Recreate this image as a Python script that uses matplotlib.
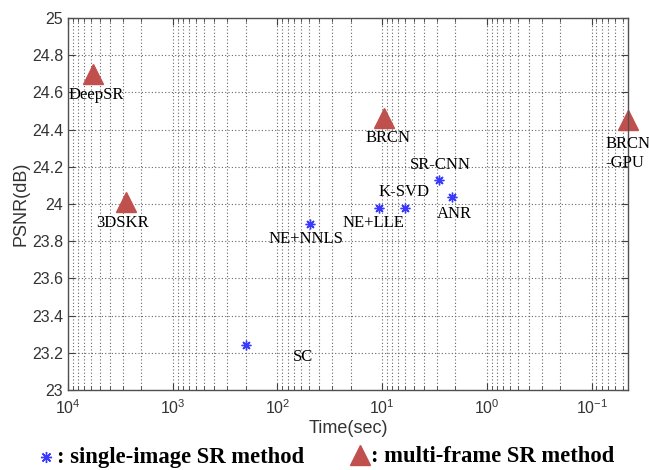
import matplotlib
matplotlib.use("Agg")
import matplotlib.pyplot as plt
from matplotlib.lines import Line2D
import numpy as np

# single-image SR methods
single_names = ["SC", "NE+NNLS", "NE+LLE", "K-SVD", "ANR", "SR-CNN"]
single_time = [198, 49, 10.8, 6.0, 2.16, 2.9]
single_psnr = [23.24, 23.895, 23.98, 23.98, 24.035, 24.13]

# multi-frame SR methods
multi_names = ["DeepSR", "3DSKR", "BRCN", "BRCN\n-GPU"]
multi_time = [5800, 2800, 9.7, 0.045]
multi_psnr = [24.70, 24.01, 24.46, 24.45]

y_ticks = [23, 23.2, 23.4, 23.6, 23.8, 24, 24.2, 24.4, 24.6, 24.8, 25]

# label offsets in pixels (dx, dy), y up
single_off = [(57, -12), (-4, -15), (-5, -15), (-1, 16), (2, -17), (2, 15)]
multi_off = [(3, -21), (-3, -21), (4, -20), (0, -33)]

px = 0.72  # points per pixel at dpi=100
star = (8, 2, 0)  # matlab-like asterisk

fig = plt.figure(figsize=(6.49, 4.70), dpi=100)
ax = fig.add_axes([68 / 649, 1 - 390 / 470, (628 - 68) / 649, (390 - 18) / 470])

ax.set_xscale("log")
ax.set_xlim(1e4, 0.045)
ax.set_ylim(23, 25)
ax.set_yticks(y_ticks)
ax.set_yticklabels(["%g" % v for v in y_ticks])

ax.grid(True, which="major", linestyle=(0, (1, 2)), color="0.4", linewidth=0.8)
ax.grid(True, which="minor", axis="x", linestyle=(0, (1, 2)), color="0.4", linewidth=0.8)
ax.set_axisbelow(True)

ax.tick_params(which="both", direction="in", top=True, right=True, colors="#404040",
               labelcolor="#333333", labelsize=11.5, labelfontfamily="Liberation Sans")
ax.tick_params(which="major", length=5)
ax.tick_params(which="minor", length=3)
ax.tick_params(axis="x", which="major", pad=6)
for s in ax.spines.values():
    s.set_color("#505050")
    s.set_linewidth(1.0)

ax.plot(single_time, single_psnr, linestyle="none", marker=star, color="#3a3aff",
        markersize=7, markeredgewidth=1.0)
ax.plot(multi_time, multi_psnr, linestyle="none", marker="^", color="#C0504D",
        markersize=14, clip_on=False)

serif = "Liberation Serif"
for name, t, p, (dx, dy) in zip(single_names, single_time, single_psnr, single_off):
    ax.annotate(name, (t, p), xytext=(dx * px, dy * px), textcoords="offset points",
                ha="center", va="center", fontsize=12, family=serif)
for name, t, p, (dx, dy) in zip(multi_names, multi_time, multi_psnr, multi_off):
    ax.annotate(name, (t, p), xytext=(dx * px, dy * px), textcoords="offset points",
                ha="center", va="center", fontsize=12, family=serif,
                multialignment="left", annotation_clip=False)

ax.set_xlabel("Time(sec)", fontsize=13, color="#333333", family="Liberation Sans", labelpad=2)
ax.set_ylabel("PSNR(dB)", fontsize=13, color="#333333", family="Liberation Sans", labelpad=2)

# legend drawn under the axes
ly = 1 - 457 / 470
fig.add_artist(Line2D([46 / 649], [ly], marker=star, color="#3a3aff", markersize=8,
                      markeredgewidth=1.0, transform=fig.transFigure))
fig.text(57 / 649, ly, ": single-image SR method", ha="left", va="center",
         fontsize=16.3, fontweight="bold", family=serif)
fig.add_artist(Line2D([360 / 649], [ly + 0.004], marker="^", color="#C0504D", markersize=15,
                      transform=fig.transFigure))
fig.text(371 / 649, ly, ": multi-frame SR method", ha="left", va="center",
         fontsize=16.3, fontweight="bold", family=serif)

fig.savefig("out.png", dpi=100)
